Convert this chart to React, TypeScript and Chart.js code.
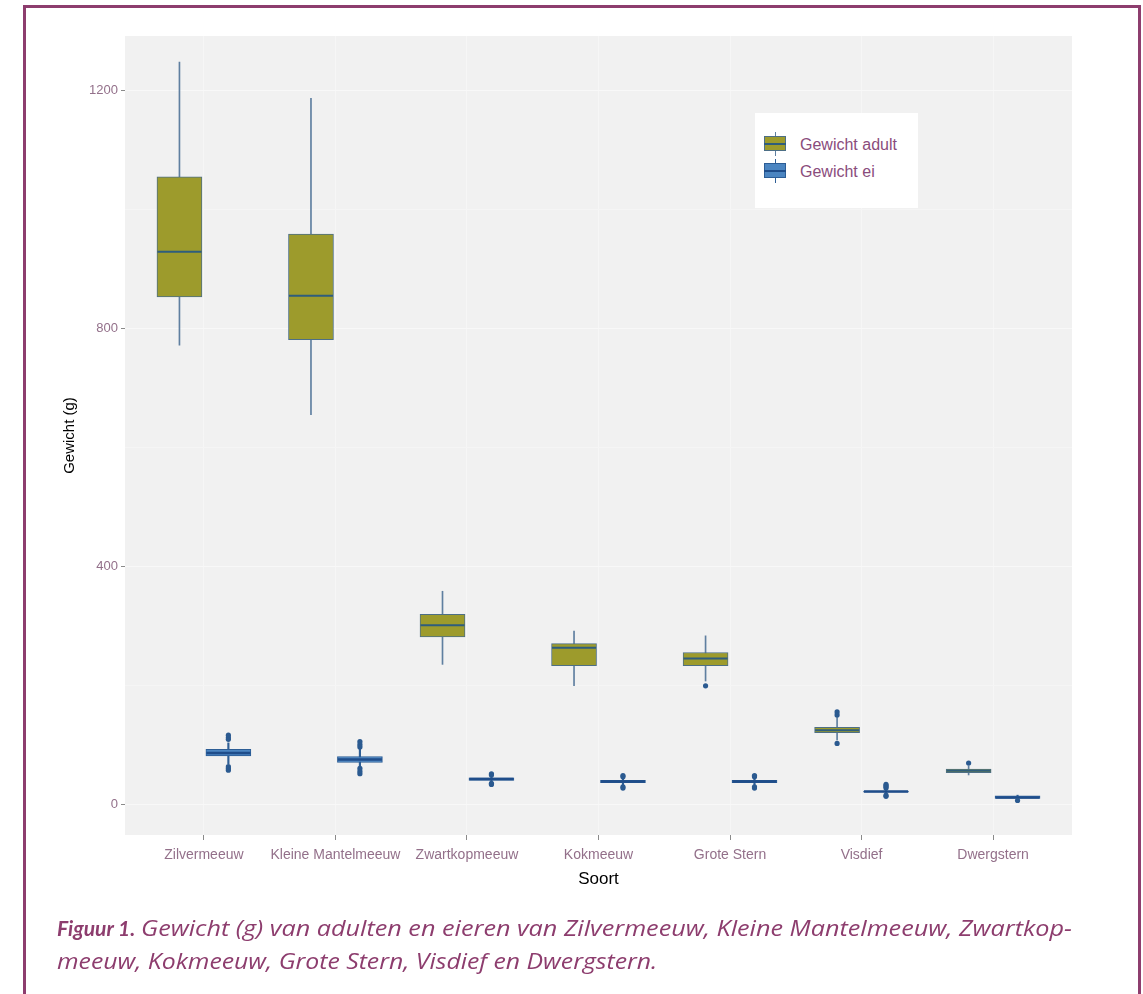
import React, { useEffect, useRef } from 'react';
import { Chart, registerables } from 'chart.js';

Chart.register(...registerables);

// ---- data ----
const categories = [
  'Zilvermeeuw',
  'Kleine Mantelmeeuw',
  'Zwartkopmeeuw',
  'Kokmeeuw',
  'Grote Stern',
  'Visdief',
  'Dwergstern',
];

const adultMin = [772, 655, 235, 199, 207, 108, 49];
const adultQ1 = [853, 781, 281, 233, 233, 120, 53];
const adultMedian = [929, 855, 301, 263, 245, 124, 56];
const adultQ3 = [1055, 959, 319, 270, 255, 129, 59];
const adultMax = [1248, 1187, 358, 291, 283, 146, 64];
const adultOutliers: number[][] = [[], [], [], [], [199], [102, 150, 155], [69]];

const eggMin = [68, 64, 36, 32, 32, 18, 8];
const eggQ1 = [81, 70, 40, 36, 36, 20, 9.5];
const eggMedian = [86, 75, 42, 38, 38, 21, 11];
const eggQ3 = [92, 80, 44, 40, 40, 22, 14];
const eggMax = [103, 93, 47, 44, 44, 24, 15];
const eggOutliers: number[][] = [
  [57, 60, 63, 109, 112, 116],
  [51, 55, 60, 96, 100, 105],
  [33, 35, 49, 51],
  [27, 29, 46, 48],
  [27, 29, 46, 48],
  [13, 15, 27, 29, 31, 33],
  [6],
];

const yTickValues = [0, 200, 400, 600, 800, 1000, 1200];
const yLabelValues = [0, 400, 800, 1200];
const legendLabels = ['Gewicht adult', 'Gewicht ei'];
const xTitle = 'Soort';
const yTitle = 'Gewicht (g)';
const captionBold = 'Figuur 1.';
const captionLine1 = 'Gewicht (g) van adulten en eieren van Zilvermeeuw, Kleine Mantelmeeuw, Zwartkop-';
const captionLine2 = 'meeuw, Kokmeeuw, Grote Stern, Visdief en Dwergstern.';

// ---- styles ----
const DODGE = 0.186;
const FONT = '"Liberation Sans", Arial, sans-serif';
const adultFill = '#9d9b2c';
const adultBorder = '#4d6f86';
const adultMedianColor = '#2e5d7d';
const adultWhisker = '#5f7fa0';
const eggFill = '#4b85c1';
const eggBorder = '#2c5d95';
const eggMedianColor = '#1f4d8a';
const eggWhisker = '#2f5f96';
const outlierColor = '#2b5a90';
const tickLabelColor = '#93708a';
const purple = '#8d3d6e';

export default function App() {
  const ref = useRef<HTMLCanvasElement>(null);

  useEffect(() => {
    const canvas = ref.current;
    if (!canvas) return;

    const panelBg = {
      id: 'panelBg',
      beforeDraw(chart: any) {
        const { ctx, chartArea: a } = chart;
        ctx.save();
        ctx.fillStyle = '#f1f1f1';
        ctx.fillRect(a.left, a.top, a.right - a.left, a.bottom - a.top);
        ctx.restore();
      },
    };

    const pts = (vals: number[], off: number) =>
      categories.map((_, i) => ({ x: i + off, y: vals[i] }));
    const ranges = (lo: number[], hi: number[], off: number) =>
      categories.map((_, i) => ({ x: i + off, y: [lo[i], hi[i]] }));
    const outPts = (arr: number[][], off: number) =>
      arr.flatMap((vals, i) => vals.map((v) => ({ x: i + off, y: v })));

    const chart = new Chart(canvas, {
      type: 'bar',
      data: {
        datasets: [
          {
            type: 'bar',
            data: ranges(adultMin, adultMax, -DODGE) as any,
            backgroundColor: adultWhisker,
            borderWidth: 0,
            barThickness: 1,
            grouped: false,
            order: 6,
          },
          {
            type: 'bar',
            data: ranges(eggMin, eggMax, DODGE) as any,
            backgroundColor: eggWhisker,
            borderWidth: 0,
            barThickness: 1.5,
            grouped: false,
            order: 6,
          },
          {
            type: 'bar',
            data: ranges(adultQ1, adultQ3, -DODGE) as any,
            backgroundColor: adultFill,
            borderColor: adultBorder,
            borderWidth: 1,
            borderSkipped: false,
            barThickness: 45,
            grouped: false,
            order: 5,
          },
          {
            type: 'bar',
            data: ranges(eggQ1, eggQ3, DODGE) as any,
            backgroundColor: eggFill,
            borderColor: eggBorder,
            borderWidth: 1,
            borderSkipped: false,
            barThickness: 45,
            grouped: false,
            order: 5,
          },
          {
            type: 'scatter',
            data: pts(adultMedian, -DODGE),
            pointStyle: 'line',
            pointRadius: 22,
            borderColor: adultMedianColor,
            borderWidth: 2,
            order: 3,
          } as any,
          {
            type: 'scatter',
            data: pts(eggMedian, DODGE),
            pointStyle: 'line',
            pointRadius: 22,
            borderColor: eggMedianColor,
            borderWidth: 2.5,
            order: 3,
          } as any,
          {
            type: 'scatter',
            data: outPts(adultOutliers, -DODGE),
            pointRadius: 2.6,
            backgroundColor: outlierColor,
            borderWidth: 0,
            order: 1,
          } as any,
          {
            type: 'scatter',
            data: outPts(eggOutliers, DODGE),
            pointRadius: 2.6,
            backgroundColor: outlierColor,
            borderWidth: 0,
            order: 1,
          } as any,
        ],
      },
      options: {
        animation: false,
        responsive: false,
        events: [],
        layout: { padding: { left: 57, top: 36, right: 71, bottom: 100 } },
        plugins: { legend: { display: false }, tooltip: { enabled: false } },
        scales: {
          x: {
            type: 'linear',
            min: -0.6,
            max: 6.6,
            offset: false,
            afterBuildTicks: (s: any) => {
              s.ticks = categories.map((_, i) => ({ value: i }));
            },
            afterFit: (s: any) => {
              s.height = 59;
            },
            ticks: {
              callback: (v: any) => categories[v as number],
              color: tickLabelColor,
              font: { family: FONT, size: 14 },
              padding: 7,
              autoSkip: false,
              maxRotation: 0,
              minRotation: 0,
            },
            grid: {
              offset: false,
              color: '#f6f6f6',
              lineWidth: 1,
              tickLength: 5,
              tickColor: '#8a8a8a',
            },
            border: { display: false },
            title: {
              display: true,
              text: xTitle,
              color: '#000',
              font: { family: FONT, size: 17 },
              padding: { top: 4, bottom: 4 },
            },
          } as any,
          y: {
            type: 'linear',
            min: -52,
            max: 1292,
            afterBuildTicks: (s: any) => {
              s.ticks = yTickValues.map((v) => ({ value: v }));
            },
            afterFit: (s: any) => {
              s.width = 68;
            },
            ticks: {
              callback: (v: any) => (yLabelValues.includes(v as number) ? String(v) : ''),
              color: tickLabelColor,
              font: { family: FONT, size: 13 },
              padding: 3,
            },
            grid: {
              color: (c: any) =>
                c.tick && yLabelValues.includes(c.tick.value) ? '#f8f8f8' : '#f5f5f5',
              lineWidth: 1,
              tickLength: 4,
              tickColor: (c: any) =>
                c.tick && yLabelValues.includes(c.tick.value) ? '#8a8a8a' : 'rgba(0,0,0,0)',
            },
            border: { display: false },
            title: {
              display: true,
              text: yTitle,
              color: '#000',
              font: { family: FONT, size: 15 },
              padding: { top: 4, bottom: 4 },
            },
          } as any,
        },
      },
      plugins: [panelBg],
    });

    return () => chart.destroy();
  }, []);

  const icon = (top: number, fill: string, border: string, median: string, line: string) => (
    <div style={{ position: 'absolute', left: 9, top, width: 22, height: 24 }}>
      <div style={{ position: 'absolute', left: 10.5, top: 0, width: 1, height: 24, background: line }} />
      <div
        style={{
          position: 'absolute',
          left: 0,
          top: 4,
          width: 22,
          height: 15,
          boxSizing: 'border-box',
          background: fill,
          border: `1px solid ${border}`,
        }}
      />
      <div style={{ position: 'absolute', left: 0, top: 10.5, width: 22, height: 2, background: median }} />
    </div>
  );

  const legendText = (top: number, text: string) => (
    <div
      style={{
        position: 'absolute',
        left: 45,
        top,
        fontSize: 16,
        lineHeight: '16px',
        color: '#8a4c7c',
        whiteSpace: 'nowrap',
      }}
    >
      {text}
    </div>
  );

  return (
    <div
      style={{
        position: 'absolute',
        left: 0,
        top: 0,
        width: 1143,
        height: 994,
        overflow: 'hidden',
        background: '#fff',
      }}
    >
      <canvas ref={ref} width={1143} height={994} style={{ position: 'absolute', left: 0, top: 0 }} />
      <div
        style={{
          position: 'absolute',
          left: 23,
          top: 5,
          width: 1118,
          height: 1200,
          boxSizing: 'border-box',
          borderTop: `3px solid ${purple}`,
          borderLeft: `3px solid ${purple}`,
          borderRight: `3px solid ${purple}`,
          pointerEvents: 'none',
        }}
      />
      <div
        style={{
          position: 'absolute',
          left: 755,
          top: 113,
          width: 163,
          height: 95,
          background: '#fff',
          fontFamily: FONT,
        }}
      >
        {icon(19, adultFill, adultBorder, adultMedianColor, adultWhisker)}
        {icon(46, eggFill, eggBorder, eggMedianColor, eggWhisker)}
        {legendText(23.5, legendLabels[0])}
        {legendText(50.5, legendLabels[1])}
      </div>
      <div
        style={{
          position: 'absolute',
          left: 57,
          top: 911,
          fontFamily: '"Open Sans", Lato, sans-serif',
          fontStyle: 'italic',
          fontSize: 21,
          lineHeight: '33px',
          color: purple,
          whiteSpace: 'nowrap',
        }}
      >
        <div>
          <b style={{ fontFamily: 'Lato, sans-serif', marginRight: 6 }}>{captionBold}</b>
          <span style={{ display: 'inline-block', transform: 'scaleX(1.2)', transformOrigin: 'left center' }}>
            {captionLine1}
          </span>
        </div>
        <div>
          <span style={{ display: 'inline-block', transform: 'scaleX(1.18)', transformOrigin: 'left center' }}>
            {captionLine2}
          </span>
        </div>
      </div>
    </div>
  );
}
